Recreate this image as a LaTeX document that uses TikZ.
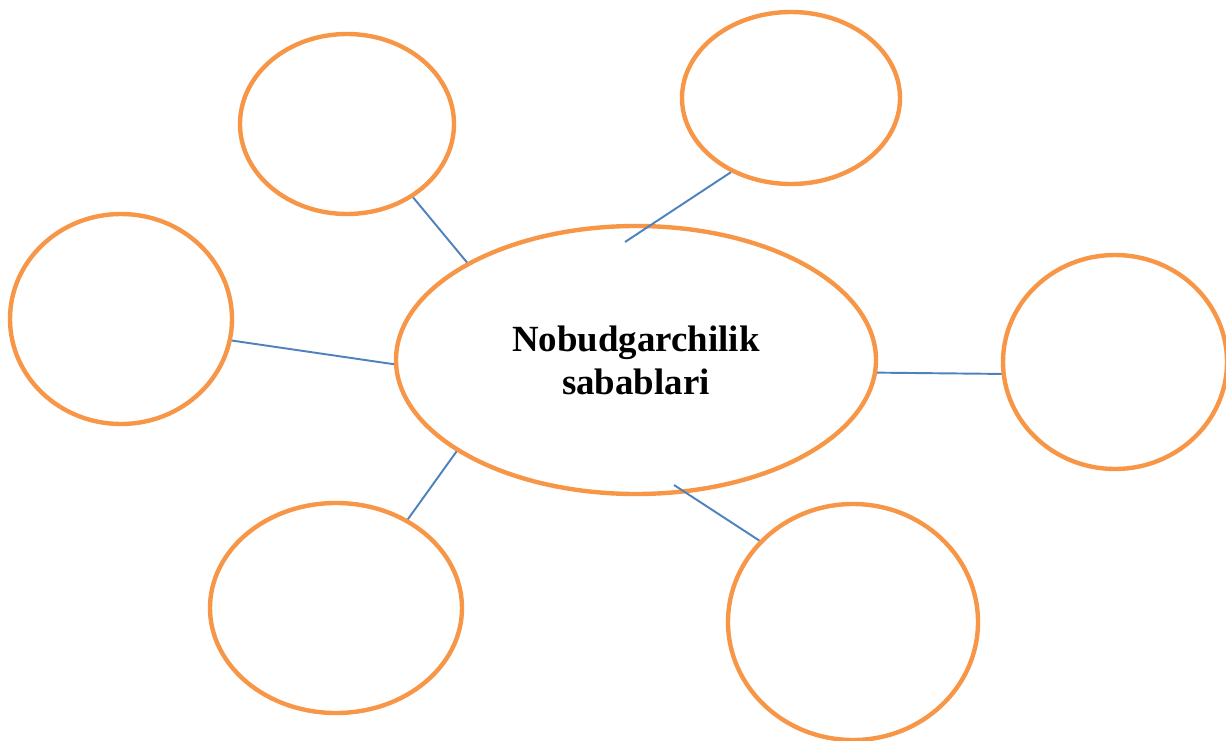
\documentclass[tikz,border=0pt]{standalone}
\usepackage{fontspec}
\setmainfont{Liberation Serif}
\usetikzlibrary{shapes.geometric}
\definecolor{ringorange}{HTML}{F79646}
\definecolor{linkblue}{HTML}{4F81BD}
\begin{document}
\begin{tikzpicture}[x=0.02cm,y=-0.02cm,
  ring/.style={ellipse,draw=ringorange,line width=2.5pt,inner sep=0pt},
  link/.style={draw=linkblue,line width=1.1pt}]
\useasboundingbox (0,0) rectangle (1226,740);
\node[ring,minimum width=480*0.02cm,minimum height=268*0.02cm,
  font=\fontsize{21}{24.5}\selectfont\bfseries,align=center] (c) at (636,360) {Nobudgarchilik\\sabablari};
\node[ring,minimum width=214*0.02cm,minimum height=180*0.02cm] (tl) at (347,124) {};
\node[ring,minimum width=218*0.02cm,minimum height=172*0.02cm] (tr) at (791,98) {};
\node[ring,minimum width=222*0.02cm,minimum height=210*0.02cm] (l) at (121,319) {};
\node[ring,minimum width=224*0.02cm,minimum height=214*0.02cm] (r) at (1115,362) {};
\node[ring,minimum width=252*0.02cm,minimum height=210*0.02cm] (bl) at (336,608) {};
\node[ring,minimum width=250*0.02cm,minimum height=236*0.02cm] (br) at (853,622) {};
\coordinate (e2) at (625,242);
\coordinate (e6) at (674,485);
\draw[link] (tl.-48.3) -- (c.150);
\draw[link] (tr.231.6) -- (e2);
\draw[link] (l.-11.9) -- (c.181.4);
\draw[link] (c.-3.3) -- (r.186);
\draw[link] (c.207.2) -- (bl.51.8);
\draw[link] (e6) -- (br.139.9);
\end{tikzpicture}
\end{document}
